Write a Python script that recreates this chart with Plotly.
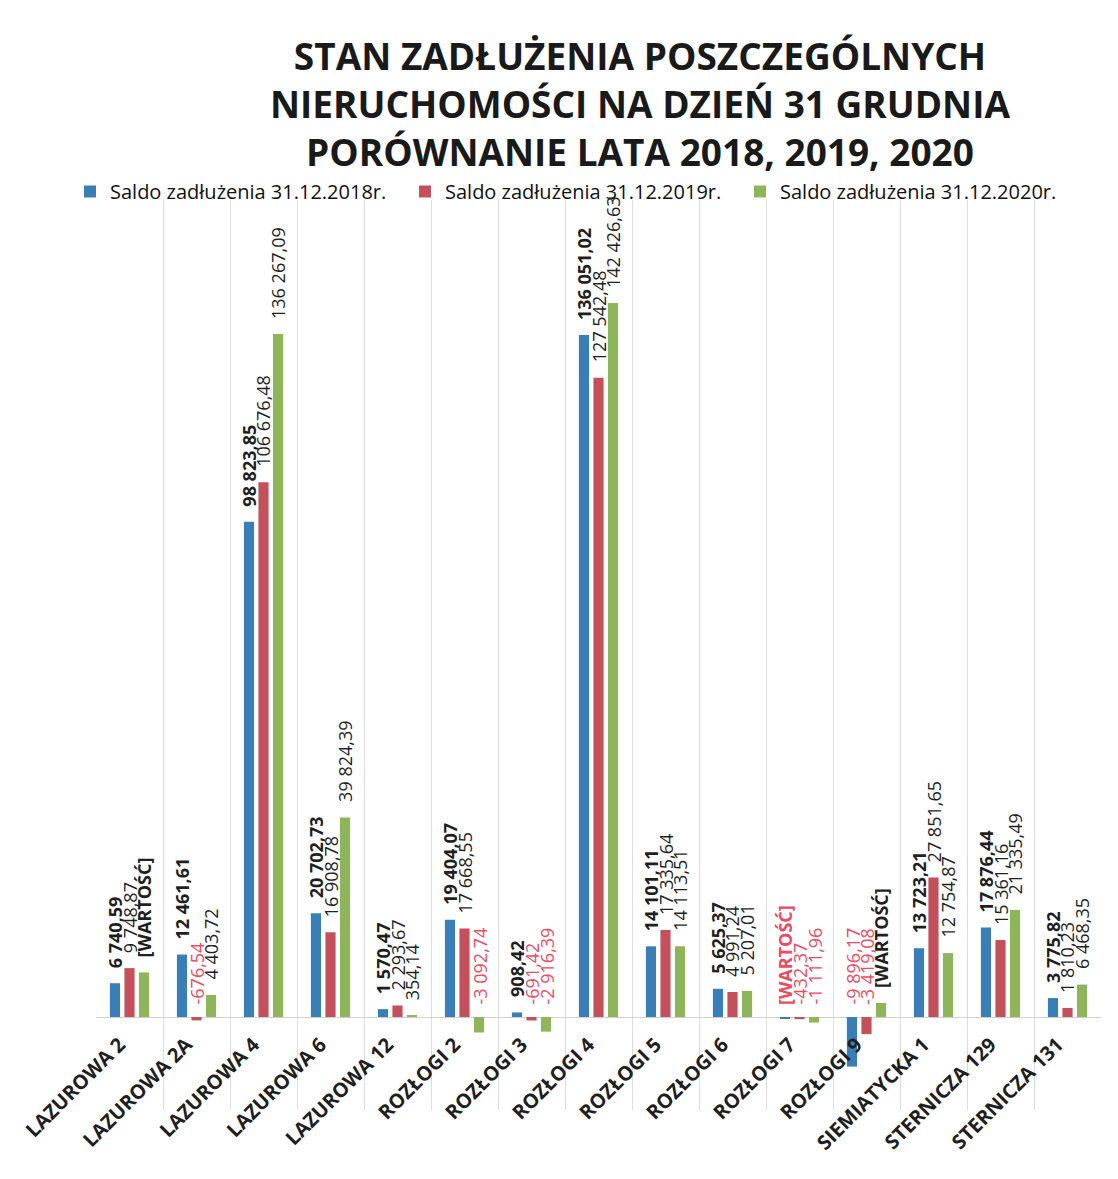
import plotly.graph_objects as go

categories = ["LAZUROWA 2", "LAZUROWA 2A", "LAZUROWA 4", "LAZUROWA 6", "LAZUROWA 12",
              "ROZŁOGI 2", "ROZŁOGI 3", "ROZŁOGI 4", "ROZŁOGI 5", "ROZŁOGI 6",
              "ROZŁOGI 7", "ROZŁOGI 9", "SIEMIATYCKA 1", "STERNICZA 129", "STERNICZA 131"]

saldo_2018 = [6740.59, 12461.61, 98823.85, 20702.73, 1570.47,
              19404.07, 908.42, 136051.02, 14101.11, 5625.37,
              -250.00, -9896.17, 13723.21, 17876.44, 3775.82]
saldo_2019 = [9748.87, -676.54, 106676.48, 16908.78, 2293.67,
              17668.55, -691.42, 127542.48, 17335.64, 4991.24,
              -432.37, -3419.08, 27851.65, 15361.16, 1810.23]
saldo_2020 = [8900.00, 4403.72, 136267.09, 39824.39, 354.14,
              -3092.74, -2916.39, 142426.63, 14113.51, 5207.01,
              -1111.96, 2800.00, 12754.87, 21335.49, 6468.35]

# labels that were shown as placeholder "[WARTOŚĆ]" in the original chart
placeholder_2018 = ["ROZŁOGI 7"]
placeholder_2020 = ["LAZUROWA 2", "ROZŁOGI 9"]

series_names = ["Saldo zadłużenia 31.12.2018r.", "Saldo zadłużenia 31.12.2019r.",
                "Saldo zadłużenia 31.12.2020r."]
colors = ["#3A7EB8", "#C4505C", "#8FB55A"]
NEG_COLOR = "#EE4A62"
POS_COLOR = "#1f1f1f"
FONT = "Open Sans"

W, H = 1118, 1179
OFF = 8  # page body margin offset of the browser
M_L, M_R, M_T = 96 - OFF, 25, 200 - OFF
PLOT_BOTTOM = 1110 - OFF
M_B = H - PLOT_BOTTOM
ZERO_PX = 1017 - OFF
UNITS_PER_PX = 199.5


def fmt(v):
    s = f"{abs(v):,.2f}".replace(",", " ").replace(".", ",")
    return ("-" if v < 0 else "") + s


def labels(values, placeholders):
    return ["[WARTOŚĆ]" if c in placeholders else fmt(v) for c, v in zip(categories, values)]


all_series = [
    (saldo_2018, labels(saldo_2018, placeholder_2018), "bold"),
    (saldo_2019, labels(saldo_2019, []), "normal"),
    (saldo_2020, labels(saldo_2020, placeholder_2020), "normal"),
]

fig = go.Figure()
annotations = []
slot_px = 14.5
for i, (vals, txt, weight) in enumerate(all_series):
    fig.add_trace(go.Bar(
        x=categories, y=vals, name=series_names[i],
        marker=dict(color=colors[i], line=dict(width=0)),
        hoverinfo="skip",
    ))
    for c, v, t in zip(categories, vals, txt):
        neg = v < 0
        if t == "[WARTOŚĆ]":
            w = "bold"
        elif neg:
            w = "normal"
        else:
            w = weight
        annotations.append(dict(
            x=c, y=0 if neg else v, xref="x", yref="y", text=t, showarrow=False,
            textangle=-90, xanchor="center", yanchor="bottom",
            xshift=(i - 1) * slot_px, yshift=10 if neg else 13,
            font=dict(family=FONT, size=18, color=NEG_COLOR if neg else POS_COLOR, weight=w),
        ))

fig.update_layout(
    width=W, height=H,
    paper_bgcolor="white", plot_bgcolor="white",
    margin=dict(l=M_L, r=M_R, t=M_T, b=M_B, autoexpand=False),
    barmode="group", bargap=0.35, bargroupgap=0.3,
    title=dict(
        text="STAN ZADŁUŻENIA POSZCZEGÓLNYCH<br>NIERUCHOMOŚCI NA DZIEŃ 31 GRUDNIA<br>PORÓWNANIE LATA 2018, 2019, 2020",
        x=(640 - OFF) / W, xref="container", xanchor="center",
        y=1 - 62 / H, yref="container", yanchor="top",
        font=dict(family=FONT, size=37, color="#1a1a1a", weight="bold"),
    ),
    legend=dict(
        orientation="h", xref="container", yref="container",
        x=62 / W, y=1 - 164 / H, xanchor="left", yanchor="top",
        font=dict(family=FONT, size=20, color="#111111"),
        entrywidth=290, entrywidthmode="pixels", itemwidth=30,
        bgcolor="rgba(0,0,0,0)",
    ),
    annotations=annotations,
    font=dict(family=FONT),
)

fig.update_xaxes(
    type="category", tickson="boundaries", showgrid=True, gridcolor="#dcdcdc",
    gridwidth=1, ticks="", showline=False, tickangle=-45, ticklabelshift=-10,
    anchor="free", position=(PLOT_BOTTOM - (1028 - OFF)) / (H - M_T - M_B),
    tickfont=dict(family=FONT, size=20, color="#1f1f1f", weight="bold"),
)
fig.update_yaxes(
    range=[-(PLOT_BOTTOM - ZERO_PX) * UNITS_PER_PX, (ZERO_PX - M_T) * UNITS_PER_PX],
    showgrid=False, showticklabels=False, ticks="",
    zeroline=True, zerolinecolor="#d0d0d0", zerolinewidth=1,
)

fig.write_html("out.html")
